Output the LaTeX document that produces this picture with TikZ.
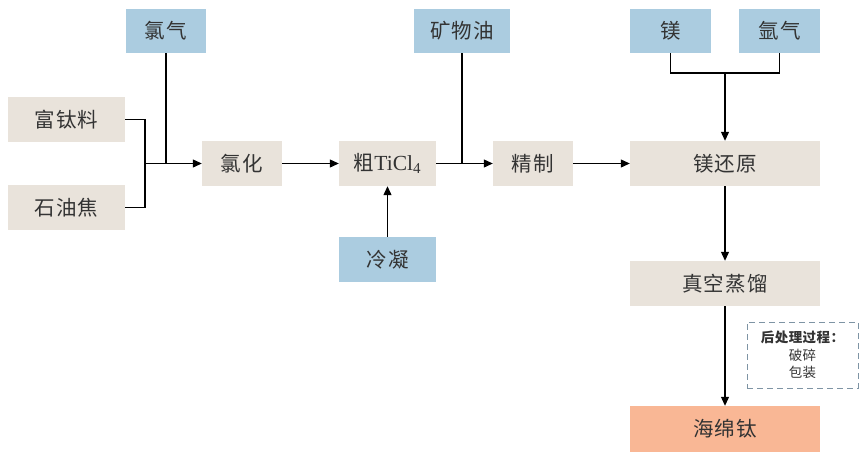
\documentclass[tikz,border=0pt]{standalone}
\usepackage{fontspec}
\setmainfont{Liberation Serif}
\newfontfamily\cjk[LetterSpace=6]{Noto Sans CJK SC}
\newfontfamily\cjksmall[LetterSpace=3]{Noto Sans CJK SC}
\usetikzlibrary{arrows.meta}
\definecolor{beige}{HTML}{E9E3DB}
\definecolor{lblue}{HTML}{ABCCE0}
\definecolor{orng}{HTML}{F9B795}
\definecolor{txt}{HTML}{333333}
\definecolor{dashc}{HTML}{7E94A4}
\tikzset{
  base/.style={inner sep=0pt, text=txt, font=\cjk\fontsize{20.5}{24}\selectfont},
  proc/.style={base, fill=beige},
  feed/.style={base, fill=lblue},
  prod/.style={base, fill=orng},
  conn/.style={line width=1.1pt, black},
  arr/.style={conn, -{Triangle[length=9pt,width=8pt]}},
}
\begin{document}
\begin{tikzpicture}[x=1pt,y=-1pt]
\useasboundingbox (0,0) rectangle (864,458);
\node[feed, minimum width=80pt, minimum height=44pt] (cl) at (166,31) {氯气};
\node[proc, minimum width=117pt, minimum height=45pt] (ft) at (66.5,119.5) {富钛料};
\node[proc, minimum width=117pt, minimum height=45pt] (sy) at (66.5,207.5) {石油焦};
\node[proc, minimum width=80pt, minimum height=45pt] (lh) at (242,163.5) {氯化};
\node[proc, minimum width=97pt, minimum height=45pt] (cu) at (387.5,163.5) {粗{\fontspec{Liberation Serif}\fontsize{21.5}{24}\selectfont TiCl\textsubscript{4}}};
\node[feed, minimum width=96pt, minimum height=44pt] (kw) at (462,31) {矿物油};
\node[proc, minimum width=80pt, minimum height=45pt] (jz) at (533,163.5) {精制};
\node[feed, minimum width=97pt, minimum height=45pt] (ln) at (387.5,259.5) {冷凝};
\node[proc, minimum width=190pt, minimum height=45pt] (mh) at (725,163.5) {镁还原};
\node[feed, minimum width=81pt, minimum height=44pt] (mg) at (670.5,31) {镁};
\node[feed, minimum width=81pt, minimum height=44pt] (ar) at (779.5,31) {氩气};
\node[proc, minimum width=190pt, minimum height=45pt] (zk) at (725,283.5) {真空蒸馏};
\node[prod, minimum width=190pt, minimum height=46pt] (hm) at (725,429) {海绵钛};
\node[draw=dashc, line width=1pt, dash pattern=on 6pt off 4pt, minimum width=111pt, minimum height=66pt, inner sep=0pt, text=txt, align=center, font=\cjksmall\fontsize{13.5}{17.5}\selectfont] (hc) at (802.5,355)
  {{\bfseries 后处理过程：}\\破碎\\包装};
\coordinate (j1) at (145,163.5);
\coordinate (j2) at (166,163.5);
\coordinate (j3) at (462,163.5);
\coordinate (j4) at (725,73);
\draw[conn] (ft.east) -| (j1) |- (sy.east);
\draw[conn] (cl.south) -- (j2);
\draw[arr] (j1) -- (lh.west);
\draw[arr] (lh.east) -- (cu.west);
\draw[conn] (kw.south) -- (j3);
\draw[arr] (cu.east) -- (jz.west);
\draw[arr] (ln.north) -- (cu.south);
\draw[arr] (jz.east) -- (mh.west);
\draw[conn] (mg.south) |- (j4) -| (ar.south);
\draw[arr] (j4) -- (mh.north);
\draw[arr] (mh.south) -- (zk.north);
\draw[arr] (zk.south) -- (hm.north);
\end{tikzpicture}
\end{document}
